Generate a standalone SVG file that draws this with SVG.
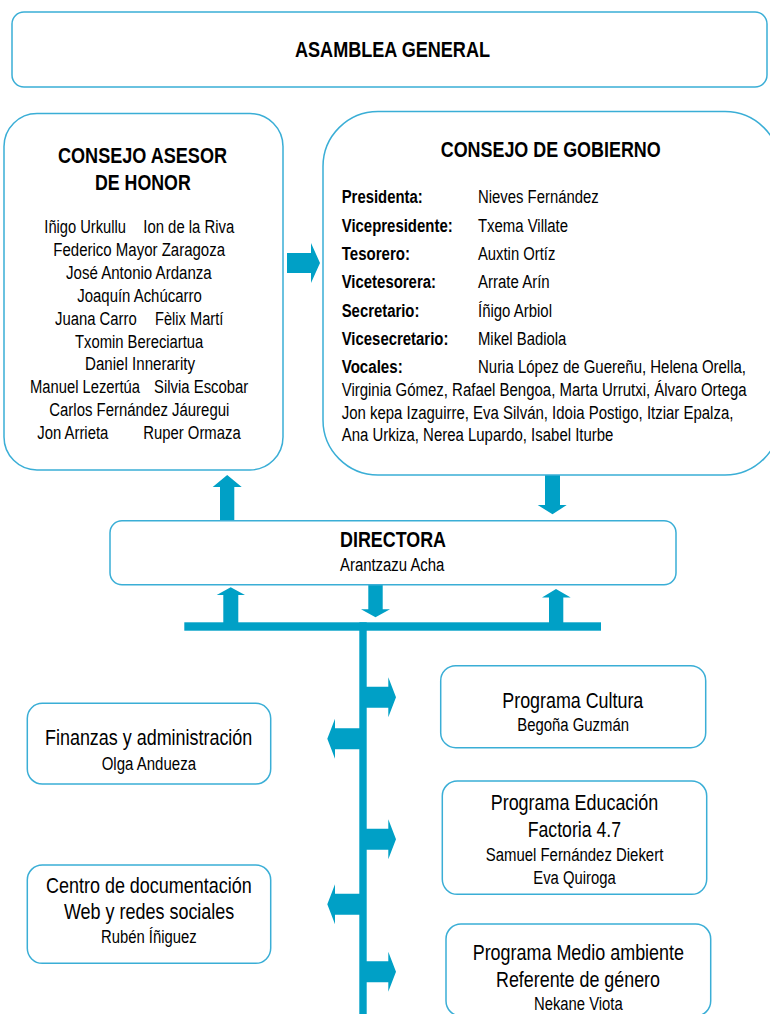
<svg xmlns="http://www.w3.org/2000/svg" width="770" height="1014" viewBox="0 0 770 1014">
<style>
.box{fill:#fff;stroke:#3AAED6;stroke-width:1.5}
.arr{fill:#00A0C6;stroke:none}
text{font-family:'Liberation Sans Narrow','Arial Narrow','Liberation Sans',Arial,sans-serif;fill:#000}
.b22{font-size:22px;font-weight:bold}
.r22{font-size:22px}
.r18{font-size:18px}
.b18{font-size:18px;font-weight:bold}
</style>
<rect width="770" height="1014" fill="#fff"/>
<g id="connectors">
<polygon class="arr" points="287,253 311,253 311,243 320,263 311,283 311,273 287,273"/>
<polygon class="arr" points="220,520 220,487 212.7,487 227.2,475 241.7,487 234.3,487 234.3,520"/>
<polygon class="arr" points="545,475 560,475 560,505 566.7,505 552.5,514.3 537.7,505 545,505"/>
<polygon class="arr" points="223.3,623 223.3,595 216.7,595 230.7,587.3 245,595 238.3,595 238.3,623"/>
<polygon class="arr" points="368.3,584.5 382.7,584.5 382.7,609.3 390,609.3 375.5,617.3 361,609.3 368.3,609.3"/>
<polygon class="arr" points="549,623 549,597.5 542,597.5 556,589 570.7,597.5 563.3,597.5 563.3,623"/>
<rect class="arr" x="184.3" y="622.3" width="416.7" height="8.4"/>
<rect class="arr" x="359.3" y="622.3" width="7.4" height="392"/>
<polygon class="arr" points="366,686.8 388.3,686.8 388.3,677.3 396,697.3 388.3,717.3 388.3,707.8 366,707.8"/>
<polygon class="arr" points="366,828.8 388.3,828.8 388.3,819.3 396,839.3 388.3,859.3 388.3,849.8 366,849.8"/>
<polygon class="arr" points="366,961.2 388.3,961.2 388.3,951.7 396,971.7 388.3,991.7 388.3,982.2 366,982.2"/>
<polygon class="arr" points="360,728.2 335,728.2 335,718.7 327.3,738.7 335,758.7 335,749.2 360,749.2"/>
<polygon class="arr" points="360,893.8 335,893.8 335,884.3 327.3,904.3 335,924.3 335,914.8 360,914.8"/>
</g>
<g id="asamblea">
<rect class="box" x="12" y="12" width="755" height="75" rx="12"/>
<text class="b22" x="295" y="57" textLength="195" lengthAdjust="spacingAndGlyphs">ASAMBLEA GENERAL</text>
</g>
<g id="consejo-asesor">
<rect class="box" x="4" y="113.5" width="279" height="356.5" rx="33"/>
<text class="b22" x="58" y="163.3" textLength="169" lengthAdjust="spacingAndGlyphs">CONSEJO ASESOR</text>
<text class="b22" x="95" y="190" textLength="95.7" lengthAdjust="spacingAndGlyphs">DE HONOR</text>
<text class="r18" x="44.3" y="233" textLength="81.7" lengthAdjust="spacingAndGlyphs">Iñigo Urkullu</text>
<text class="r18" x="143.3" y="233" textLength="91" lengthAdjust="spacingAndGlyphs">Ion de la Riva</text>
<text class="r18" x="53.3" y="255.9" textLength="171.7" lengthAdjust="spacingAndGlyphs">Federico Mayor Zaragoza</text>
<text class="r18" x="66" y="278.8" textLength="145.7" lengthAdjust="spacingAndGlyphs">José Antonio Ardanza</text>
<text class="r18" x="77.3" y="301.7" textLength="124.4" lengthAdjust="spacingAndGlyphs">Joaquín Achúcarro</text>
<text class="r18" x="55" y="324.6" textLength="81.7" lengthAdjust="spacingAndGlyphs">Juana Carro</text>
<text class="r18" x="155" y="324.6" textLength="68.3" lengthAdjust="spacingAndGlyphs">Fèlix Martí</text>
<text class="r18" x="75" y="347.5" textLength="128.3" lengthAdjust="spacingAndGlyphs">Txomin Bereciartua</text>
<text class="r18" x="85" y="370.4" textLength="110" lengthAdjust="spacingAndGlyphs">Daniel Innerarity</text>
<text class="r18" x="30" y="393.3" textLength="110" lengthAdjust="spacingAndGlyphs">Manuel Lezertúa</text>
<text class="r18" x="154" y="393.3" textLength="94.3" lengthAdjust="spacingAndGlyphs">Silvia Escobar</text>
<text class="r18" x="49.3" y="416.2" textLength="180" lengthAdjust="spacingAndGlyphs">Carlos Fernández Jáuregui</text>
<text class="r18" x="37.3" y="439.1" textLength="71" lengthAdjust="spacingAndGlyphs">Jon Arrieta</text>
<text class="r18" x="143.3" y="439.1" textLength="97.4" lengthAdjust="spacingAndGlyphs">Ruper Ormaza</text>
</g>
<g id="consejo-gobierno">
<rect class="box" x="323" y="111.5" width="457" height="363.5" rx="55"/>
<text class="b22" x="440.7" y="157.3" textLength="220" lengthAdjust="spacingAndGlyphs">CONSEJO DE GOBIERNO</text>
<text class="b18" x="341.7" y="203" textLength="81" lengthAdjust="spacingAndGlyphs">Presidenta:</text>
<text class="b18" x="341.7" y="231.5" textLength="111" lengthAdjust="spacingAndGlyphs">Vicepresidente:</text>
<text class="b18" x="341.7" y="259.9" textLength="68.3" lengthAdjust="spacingAndGlyphs">Tesorero:</text>
<text class="b18" x="341.7" y="288.3" textLength="94.3" lengthAdjust="spacingAndGlyphs">Vicetesorera:</text>
<text class="b18" x="341.7" y="316.7" textLength="77.7" lengthAdjust="spacingAndGlyphs">Secretario:</text>
<text class="b18" x="341.7" y="345" textLength="106.7" lengthAdjust="spacingAndGlyphs">Vicesecretario:</text>
<text class="b18" x="341.7" y="373.4" textLength="61" lengthAdjust="spacingAndGlyphs">Vocales:</text>
<text class="r18" x="478" y="203" textLength="120.7" lengthAdjust="spacingAndGlyphs">Nieves Fernández</text>
<text class="r18" x="478" y="231.5" textLength="90" lengthAdjust="spacingAndGlyphs">Txema Villate</text>
<text class="r18" x="478" y="259.9" textLength="77.3" lengthAdjust="spacingAndGlyphs">Auxtin Ortíz</text>
<text class="r18" x="478" y="288.3" textLength="71.7" lengthAdjust="spacingAndGlyphs">Arrate Arín</text>
<text class="r18" x="478" y="316.7" textLength="74" lengthAdjust="spacingAndGlyphs">Íñigo Arbiol</text>
<text class="r18" x="478" y="345" textLength="88.3" lengthAdjust="spacingAndGlyphs">Mikel Badiola</text>
<text class="r18" x="478" y="373.4" textLength="268" lengthAdjust="spacingAndGlyphs">Nuria López de Guereñu, Helena Orella,</text>
<text class="r18" x="341.7" y="396" textLength="405" lengthAdjust="spacingAndGlyphs">Virginia Gómez, Rafael Bengoa, Marta Urrutxi, Álvaro Ortega</text>
<text class="r18" x="341.7" y="418.7" textLength="391.7" lengthAdjust="spacingAndGlyphs">Jon kepa Izaguirre, Eva Silván, Idoia Postigo, Itziar Epalza,</text>
<text class="r18" x="341.7" y="441.3" textLength="271.7" lengthAdjust="spacingAndGlyphs">Ana Urkiza, Nerea Lupardo, Isabel Iturbe</text>
</g>
<g id="directora">
<rect class="box" x="110" y="520.7" width="566" height="64" rx="12"/>
<text class="b22" x="340" y="546.7" textLength="106" lengthAdjust="spacingAndGlyphs">DIRECTORA</text>
<text class="r18" x="340" y="570.7" textLength="104.4" lengthAdjust="spacingAndGlyphs">Arantzazu Acha</text>
</g>
<g id="finanzas">
<rect class="box" x="27.3" y="703.3" width="243.4" height="80.7" rx="15"/>
<text class="r22" x="45" y="745" textLength="207.3" lengthAdjust="spacingAndGlyphs">Finanzas y administración</text>
<text class="r18" x="101.7" y="770" textLength="94.3" lengthAdjust="spacingAndGlyphs">Olga Andueza</text>
</g>
<g id="centro-documentacion">
<rect class="box" x="27.3" y="865" width="243.4" height="98.3" rx="15"/>
<text class="r22" x="46" y="893.3" textLength="205.7" lengthAdjust="spacingAndGlyphs">Centro de documentación</text>
<text class="r22" x="64" y="919.3" textLength="170.3" lengthAdjust="spacingAndGlyphs">Web y redes sociales</text>
<text class="r18" x="101" y="943.3" textLength="95.7" lengthAdjust="spacingAndGlyphs">Rubén Íñiguez</text>
</g>
<g id="programa-cultura">
<rect class="box" x="440.7" y="665.7" width="265" height="82" rx="15"/>
<text class="r22" x="502.3" y="707.7" textLength="141" lengthAdjust="spacingAndGlyphs">Programa Cultura</text>
<text class="r18" x="517.3" y="731" textLength="111.7" lengthAdjust="spacingAndGlyphs">Begoña Guzmán</text>
</g>
<g id="programa-educacion">
<rect class="box" x="442.3" y="781" width="264.4" height="113.3" rx="15"/>
<text class="r22" x="490.7" y="810" textLength="167.6" lengthAdjust="spacingAndGlyphs">Programa Educación</text>
<text class="r22" x="527.7" y="836.7" textLength="93.3" lengthAdjust="spacingAndGlyphs">Factoria 4.7</text>
<text class="r18" x="485.7" y="860.7" textLength="177.6" lengthAdjust="spacingAndGlyphs">Samuel Fernández Diekert</text>
<text class="r18" x="533.3" y="884" textLength="82.4" lengthAdjust="spacingAndGlyphs">Eva Quiroga</text>
</g>
<g id="programa-medio-ambiente">
<rect class="box" x="446" y="924" width="264.7" height="92" rx="15"/>
<text class="r22" x="472.7" y="960" textLength="211.3" lengthAdjust="spacingAndGlyphs">Programa Medio ambiente</text>
<text class="r22" x="496" y="986.7" textLength="164" lengthAdjust="spacingAndGlyphs">Referente de género</text>
<text class="r18" x="534" y="1010" textLength="88.7" lengthAdjust="spacingAndGlyphs">Nekane Viota</text>
</g>
</svg>
